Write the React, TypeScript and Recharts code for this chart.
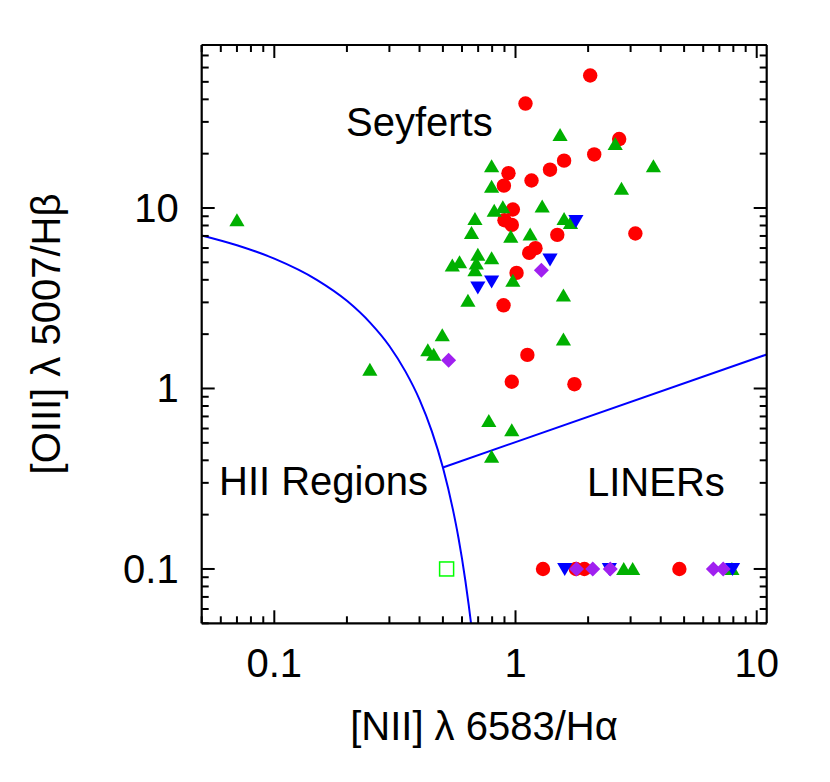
import { ComposedChart, Scatter, Line, XAxis, YAxis } from 'recharts';

const FONT = '"Liberation Sans", Arial, Helvetica, sans-serif';

// [NII]/Ha , [OIII]/Hb pairs
const redCircles: [number, number][] = [
  [2.04, 54.2], [1.1, 37.9], [2.69, 24.1], [2.12, 19.8], [1.59, 18.3], [1.39, 16.3],
  [0.935, 15.6], [1.165, 14.2], [0.895, 13.3], [0.975, 9.81], [0.9, 8.56], [0.965, 8.06],
  [1.49, 7.1], [3.14, 7.22], [1.14, 5.64], [1.21, 5.99], [1.01, 4.37], [0.892, 2.89],
  [1.12, 1.535], [0.965, 1.09], [1.755, 1.056],
  [1.3, 0.1], [1.78, 0.1], [1.93, 0.1], [4.78, 0.1],
];
const greenTriangles: [number, number][] = [
  [0.07, 8.56], [1.53, 25.4], [2.59, 22.6], [0.796, 17.05], [3.73, 17.05], [0.796, 13.1],
  [2.75, 12.8], [0.886, 10.1], [0.816, 9.64], [1.29, 10.2], [0.679, 8.7], [1.59, 8.7],
  [1.69, 8.27], [0.657, 7.28], [0.956, 6.93], [1.15, 7.13], [0.698, 5.5], [0.796, 5.27],
  [0.586, 5.01], [0.547, 4.8], [0.688, 4.93], [0.679, 4.52], [0.975, 3.95], [0.635, 3.06],
  [1.58, 3.27], [0.497, 1.97], [0.433, 1.63], [0.458, 1.54], [1.58, 1.87], [0.249, 1.27],
  [0.775, 0.661], [0.965, 0.587], [0.796, 0.418],
  [2.81, 0.1], [3.06, 0.1], [7.89, 0.1],
];
const blueTriangles: [number, number][] = [
  [1.78, 8.48], [1.39, 5.18], [0.796, 3.92], [0.698, 3.63],
  [1.6, 0.1], [2.45, 0.1], [7.94, 0.1],
];
const purpleDiamonds: [number, number][] = [
  [1.28, 4.52], [0.528, 1.435],
  [1.79, 0.1], [2.09, 0.1], [2.47, 0.1], [6.61, 0.1], [7.26, 0.1],
];
const openSquares: [number, number][] = [[0.518, 0.1]];

// demarcation lines (Kauffmann curve + LINER line)
const kauffmannCurve: [number, number][] = [
  [0.05, 7.05], [0.07, 6.22], [0.1, 5.24], [0.15, 4.0], [0.2, 3.06], [0.25, 2.31],
  [0.3, 1.72], [0.35, 1.24], [0.4, 0.868], [0.45, 0.579], [0.5, 0.365], [0.55, 0.214],
  [0.58, 0.149], [0.6, 0.114], [0.62, 0.0855], [0.64, 0.0628], [0.654, 0.05],
];
const linerLine: [number, number][] = [[0.5, 0.365], [11, 1.544]];

const xTicks = [
  0.05, 0.06, 0.07, 0.08, 0.09,
  0.1, 0.2, 0.3, 0.4, 0.5, 0.6, 0.7, 0.8, 0.9,
  1, 2, 3, 4, 5, 6, 7, 8, 9, 10,
];
const yTicks = [
  0.05, 0.06, 0.07, 0.08, 0.09,
  0.1, 0.2, 0.3, 0.4, 0.5, 0.6, 0.7, 0.8, 0.9,
  1, 2, 3, 4, 5, 6, 7, 8, 9,
  10, 20, 30, 40, 50, 60, 70, 80,
];
const majorTicks = [0.1, 1, 10];

const toPts = (arr: [number, number][]) => arr.map(([x, y]) => ({ x, y }));

const MAJOR = 13;
const MINOR = 7;

function BottomTick({ x, y, payload }: any) {
  const major = majorTicks.includes(payload.value);
  return (
    <g>
      <line x1={x} x2={x} y1={y} y2={y - (major ? MAJOR : MINOR)} stroke="#000" strokeWidth={2} />
      {major && (
        <text x={x} y={y + 54} textAnchor="middle" fontSize={40} fontFamily={FONT} fill="#000">
          {String(payload.value)}
        </text>
      )}
    </g>
  );
}

function TopTick({ x, y, payload }: any) {
  const major = majorTicks.includes(payload.value);
  return <line x1={x} x2={x} y1={y} y2={y + (major ? MAJOR : MINOR)} stroke="#000" strokeWidth={2} />;
}

function LeftTick({ x, y, payload }: any) {
  const major = majorTicks.includes(payload.value);
  return (
    <g>
      <line x1={x} x2={x + (major ? MAJOR : MINOR)} y1={y} y2={y} stroke="#000" strokeWidth={2} />
      {major && (
        <text x={x - 23} y={y + 14} textAnchor="end" fontSize={40} fontFamily={FONT} fill="#000">
          {String(payload.value)}
        </text>
      )}
    </g>
  );
}

function RightTick({ x, y, payload }: any) {
  const major = majorTicks.includes(payload.value);
  return <line x1={x} x2={x - (major ? MAJOR : MINOR)} y1={y} y2={y} stroke="#000" strokeWidth={2} />;
}

const RedDot = ({ cx, cy }: any) => <circle cx={cx} cy={cy} r={7.2} fill="#ff0000" />;
const GreenUp = ({ cx, cy }: any) => (
  <polygon points={`${cx},${cy - 7} ${cx - 7.6},${cy + 6} ${cx + 7.6},${cy + 6}`} fill="#00b000" />
);
const BlueDown = ({ cx, cy }: any) => (
  <polygon points={`${cx},${cy + 7} ${cx - 7.6},${cy - 6} ${cx + 7.6},${cy - 6}`} fill="#0000ff" />
);
const PurpleDiamond = ({ cx, cy }: any) => (
  <polygon points={`${cx},${cy - 7.5} ${cx + 7.5},${cy} ${cx},${cy + 7.5} ${cx - 7.5},${cy}`} fill="#a020f0" />
);
const OpenSquare = ({ cx, cy }: any) => (
  <rect x={cx - 7} y={cy - 7} width={14} height={14} fill="none" stroke="#00ff00" strokeWidth={1.5} />
);

const AXIS_LINE = { stroke: '#000', strokeWidth: 2.2 };

export default function App() {
  return (
    <div style={{ position: 'absolute', left: 0, top: 0, width: 830, height: 782, background: '#fff' }}>
      <ComposedChart width={830} height={782} margin={{ top: 44, right: 62.3, bottom: 157.7, left: 200.7 }}>
        <XAxis xAxisId="b" dataKey="x" type="number" scale="log" domain={[0.05, 11]} allowDataOverflow
          ticks={xTicks} interval={0} height={1} tickSize={0} tickMargin={0}
          axisLine={AXIS_LINE} tick={(p: any) => <BottomTick {...p} />} />
        <XAxis xAxisId="t" orientation="top" dataKey="x" type="number" scale="log" domain={[0.05, 11]} allowDataOverflow
          ticks={xTicks} interval={0} height={1} tickSize={0} tickMargin={0}
          axisLine={AXIS_LINE} tick={(p: any) => <TopTick {...p} />} />
        <YAxis yAxisId="l" dataKey="y" type="number" scale="log" domain={[0.05, 80]} allowDataOverflow
          ticks={yTicks} interval={0} width={1} tickSize={0} tickMargin={0}
          axisLine={AXIS_LINE} tick={(p: any) => <LeftTick {...p} />} />
        <YAxis yAxisId="r" orientation="right" dataKey="y" type="number" scale="log" domain={[0.05, 80]} allowDataOverflow
          ticks={yTicks} interval={0} width={1} tickSize={0} tickMargin={0}
          axisLine={AXIS_LINE} tick={(p: any) => <RightTick {...p} />} />

        <Line xAxisId="b" yAxisId="l" data={toPts(kauffmannCurve)} dataKey="y" type="monotone"
          stroke="#0000ff" strokeWidth={2} dot={false} activeDot={false} isAnimationActive={false} />
        <Line xAxisId="b" yAxisId="l" data={toPts(linerLine)} dataKey="y" type="linear"
          stroke="#0000ff" strokeWidth={2} dot={false} activeDot={false} isAnimationActive={false} />

        <Scatter xAxisId="b" yAxisId="l" data={toPts(openSquares)} shape={OpenSquare} isAnimationActive={false} />
        <Scatter xAxisId="b" yAxisId="l" data={toPts(redCircles)} shape={RedDot} isAnimationActive={false} />
        <Scatter xAxisId="b" yAxisId="l" data={toPts(greenTriangles)} shape={GreenUp} isAnimationActive={false} />
        <Scatter xAxisId="b" yAxisId="l" data={toPts(blueTriangles)} shape={BlueDown} isAnimationActive={false} />
        <Scatter xAxisId="b" yAxisId="l" data={toPts(purpleDiamonds)} shape={PurpleDiamond} isAnimationActive={false} />
      </ComposedChart>

      <svg width={830} height={782} style={{ position: 'absolute', left: 0, top: 0, pointerEvents: 'none' }}>
        <g fontFamily={FONT} fontSize={40} fill="#000">
          <text x={346} y={136}>Seyferts</text>
          <text x={219} y={495}>HII Regions</text>
          <text x={587} y={496}>LINERs</text>
          <text x={484} y={740} textAnchor="middle">[NII] λ 6583/Hα</text>
          <text x={60} y={334} textAnchor="middle" transform="rotate(-90 60 334)">[OIII] λ 5007/Hβ</text>
        </g>
      </svg>
    </div>
  );
}
